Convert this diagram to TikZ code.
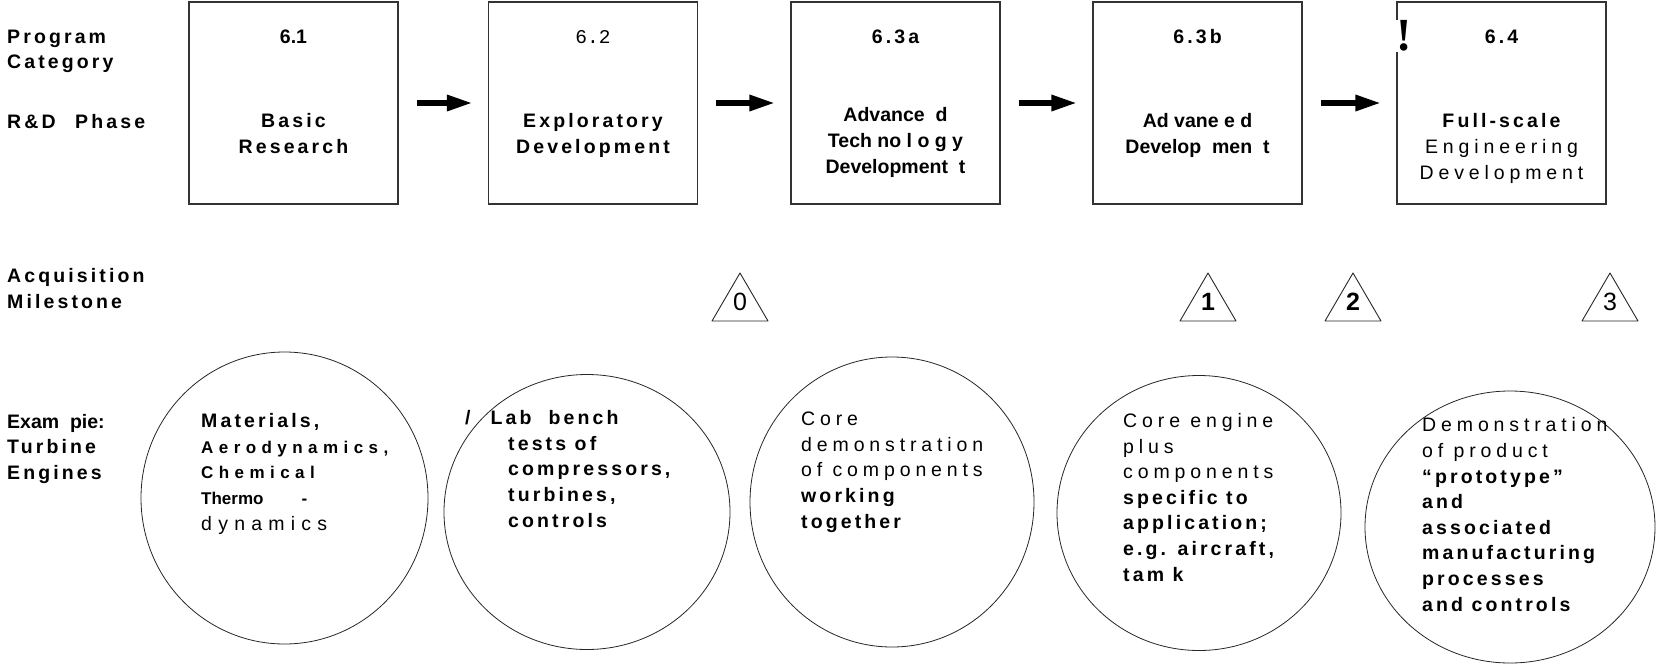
\documentclass[tikz,border=0pt]{standalone}
\usepackage{fontspec}
\setmainfont{Liberation Sans}
\setmonofont{Liberation Mono}
\newfontfamily\trk[LetterSpace=16]{Liberation Sans}
\newfontfamily\trkw[LetterSpace=25]{Liberation Sans}
\newfontfamily\trkx[LetterSpace=32]{Liberation Sans}
\newfontfamily\bangfont{Liberation Serif}
\newcommand\sz{\fontsize{19.5}{25.6}\selectfont}
\newcommand\smsz{\fontsize{17}{25.6}\selectfont}
\usetikzlibrary{arrows.meta,shapes.geometric}
\begin{document}
\begin{tikzpicture}[x=1pt,y=-1pt,
		rowlab/.style={anchor=base west,inner sep=0pt,font=\sz\trk\bfseries},
		phasebox/.style={draw=black!80,line width=1.4pt,minimum width=209pt,minimum height=202pt,inner sep=0pt},
		catnum/.style={anchor=base,inner sep=0pt,font=\sz\trk\bfseries},
		phasetxt/.style={anchor=base,inner sep=0pt,align=center,font=\sz\bfseries},
		flow/.style={line width=6pt,-{Triangle[length=26pt,width=15pt]},shorten <=18pt,shorten >=15pt},
		blob/.style={draw=black!85,line width=0.8pt,ellipse,inner sep=0pt},
		blobtxt/.style={anchor=base west,inner sep=0pt,align=left,font=\sz},
		mstone/.style={inner sep=0pt,font=\fontsize{25}{25}\selectfont},
		tri/.style={draw=black!85,line width=0.9pt,line join=round}]
		\useasboundingbox (0,0) rectangle (1658,664);
		\node [rowlab] (prog) at (7,43) {Program};
		\node [rowlab] (cat) at (7,68) {Category};
		\node [rowlab] (rd) at (7,128) {R\&D\quad Phase};
		\node [rowlab] (acq) at (7,282) {Acquisition};
		\node [rowlab] (mil) at (7,308) {Milestone};
		\node [rowlab,font=\sz\bfseries] (ex) at (7,428) {Exam\ \ pie:};
		\node [rowlab] (tur) at (7,453) {Turbine};
		\node [rowlab] (eng) at (7,479) {Engines};

		\node [phasebox] (b1) at (293.5,103) {};
		\node [phasebox] (b2) at (593,103) {};
		\node [phasebox] (b3) at (895.5,103) {};
		\node [phasebox] (b4) at (1197.5,103) {};
		\node [phasebox] (b5) at (1501.5,103) {};
		\node [catnum,font=\sz\bfseries] (c1) at (293.5,43) {6.1};
		\node [catnum,font=\sz\ttfamily] (c2) at (593,43) {6.2};
		\node [catnum] (c3) at (895.5,43) {6.3a};
		\node [catnum] (c4) at (1197.5,43) {6.3b};
		\node [catnum] (c5) at (1501.5,43) {6.4};
		\node [inner sep=1pt,fill=white,font=\fontsize{46}{46}\bangfont\bfseries] (bang) at (1404,36) {!};
		% anchor=base is the last line of a multi-line node
		\node [phasetxt,font=\sz\trk\bfseries] (p1) at (293.5,153) {Basic\\Research};
		\node [phasetxt,font=\sz\trk\bfseries] (p2) at (593,153) {Exploratory\\Development};
		\node [phasetxt] (p3) at (895.5,173) {Advance\ \ d\\Tech no l o g y\\Development\ \ t};
		\node [phasetxt] (p4) at (1197.5,153) {Ad vane e d\\Develop\ \ men\ \ t};
		\node [phasetxt,font=\sz\trkw] (p5) at (1501.5,179) {{\trk\bfseries Full-scale}\\Engineering\\Development};
		\draw [flow] (b1.east) -- (b2.west);
		\draw [flow] (b2.east) -- (b3.west);
		\draw [flow] (b3.east) -- (b4.west);
		\draw [flow] (b4.east) -- (b5.west);

		\node [mstone] (m0) at (740,302) {0};
		\node [mstone,font=\fontsize{25}{25}\selectfont\bfseries] (m1) at (1208,302) {1};
		\node [mstone,font=\fontsize{25}{25}\selectfont\bfseries] (m2) at (1353,302) {2};
		\node [mstone] (m3) at (1610,302) {3};
		\foreach \m in {m0,m1,m2,m3}
			\draw [tri] (\m) ++(0,-29) -- ++(28,48) -- ++(-56,0) -- cycle;

		\node [blob,minimum width=287pt,minimum height=292pt] (e1) at (284.5,498) {};
		\node [blob,minimum width=286pt,minimum height=275pt] (e2) at (587,512) {};
		\node [blob,minimum width=284pt,minimum height=290pt] (e3) at (892,502) {};
		\node [blob,minimum width=284pt,minimum height=275pt] (e4) at (1199,513) {};
		\node [blob,minimum width=290pt,minimum height=272pt] (e5) at (1510,527) {};
		\node [blobtxt] (t1) at (201,530) {{\trk\bfseries Materials,}\\
			{\smsz\trkx\bfseries Aerodynamics,}\\
			{\smsz\trkx\bfseries Chemical}\\
			{\fontsize{17}{25.6}\selectfont\bfseries Thermo\hspace{38pt}-}\\
			{\trkx dynamics}};
		\node [blobtxt,font=\sz\trk\bfseries] (t2) at (465,527) {/\hspace{20pt}Lab\ \ bench\\
			\hspace*{43pt}tests of\\
			\hspace*{43pt}compressors,\\
			\hspace*{43pt}turbines,\\
			\hspace*{43pt}controls};
		\node [blobtxt,font=\sz\trkw] (t3) at (801,528) {Core\\demonstration\\of components\\
			{\trk\bfseries working}\\
			{\trk\bfseries together}};
		\node [blobtxt,font=\sz\trkw] (t4) at (1123,581) {Core engine\\plus\\components\\
			{\trk\bfseries specific to}\\
			{\trk\bfseries application;}\\
			{\trk\bfseries e.g. aircraft,}\\
			{\trk\bfseries tam k}};
		\node [blobtxt,font=\sz\trkw] (t5) at (1422,611) {Demonstration\\of product\\
			{\trk\bfseries “prototype”}\\
			{\trk\bfseries and}\\
			{\trk\bfseries associated}\\
			{\trk\bfseries manufacturing}\\
			{\trk\bfseries processes}\\
			{\trk\bfseries and controls}};
	\end{tikzpicture}
\end{document}
